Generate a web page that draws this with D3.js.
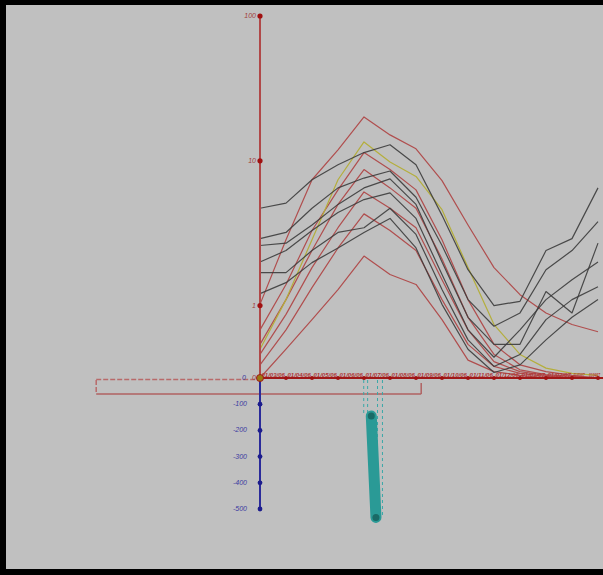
<!DOCTYPE html>
<html><head><meta charset="utf-8">
<script src="https://cdn.jsdelivr.net/npm/d3@7"></script>
<style>html,body{margin:0;padding:0;background:#000}svg{display:block}</style>
</head><body>
<svg id="c" width="603" height="575"></svg>
<script>
// sampling periods along the shared horizontal axis
const periods = ["01/03/06","01/04/06","01/05/06","01/06/06","01/07/06","01/08/06","01/09/06",
                 "01/10/06","01/11/06","01/12/06","01/01/07","01/02/07","01/03/07","01/04/07"];

// upper panel (log) series — red group
const red1 = [1.02, 2.85, 7.4, 11.9, 20.1, 15.1, 12.1, 7.3, 3.6, 1.83, 1.19, 0.89, 0.74, 0.66];
const red2 = [0.68, 1.40, 3.3, 6.3, 11.4, 8.7, 6.3, 2.85, 1.10, 0.54, 0.39, 0.35, 0.33, 0];
const red3 = [0.54, 1.10, 2.4, 5.0, 8.7, 6.5, 4.7, 2.1, 0.83, 0.46, 0.36, 0.334, 0.324, 0];
const red4 = [0.46, 0.87, 1.83, 3.45, 6.1, 4.7, 3.45, 1.51, 0.68, 0.41, 0.35, 0.33, 0, 0];
const red5 = [0.39, 0.68, 1.33, 2.5, 4.3, 3.3, 2.4, 1.10, 0.54, 0.38, 0.34, 0.324, 0, 0];
const red6 = [0, 0.50, 0.80, 1.29, 2.2, 1.64, 1.40, 0.80, 0.42, 0.35, 0.33, 0, 0, 0];
// upper panel — yellow series
const yellow1 = [0.50, 1.10, 2.85, 7.4, 13.5, 9.8, 7.8, 4.6, 1.83, 0.74, 0.46, 0.37, 0.34, 0.33];
// upper panel — dark group
const dark1 = [4.7, 5.1, 7.4, 9.4, 11.4, 12.9, 9.4, 4.2, 1.77, 1.0, 1.07, 2.4, 2.9, 6.5];
const dark2 = [2.9, 3.2, 4.7, 6.5, 7.6, 8.5, 5.6, 2.6, 1.10, 0.72, 0.89, 1.77, 2.4, 3.8];
const dark3 = [2.6, 2.7, 3.6, 5.0, 6.5, 7.5, 5.0, 2.0, 0.83, 0.54, 0.54, 1.25, 0.89, 2.7];
const dark4 = [2.0, 2.4, 3.3, 4.4, 5.4, 6.0, 4.0, 1.64, 0.68, 0.44, 0.68, 1.10, 1.51, 2.0];
const dark5 = [1.69, 1.69, 2.4, 3.2, 3.45, 4.7, 3.1, 1.29, 0.58, 0.38, 0.46, 0.80, 1.10, 1.35];
const dark6 = [1.21, 1.44, 1.98, 2.5, 3.2, 4.0, 2.5, 1.02, 0.50, 0.345, 0.39, 0.58, 0.83, 1.10];

const redSeries = [red1, red2, red3, red4, red5, red6];
const darkSeries = [dark1, dark2, dark3, dark4, dark5, dark6];

// upper axis ticks
const upperTicks = [100, 10, 1, 0];
const upperTickLabels = ["100", "10", "1", "0"];
// lower axis ticks
const lowerTicks = [-100, -200, -300, -400, -500];

// lower panel range bar (position along axis, value)
const rangeBar = [{pos: 4.28, value: -145}, {pos: 4.46, value: -532}];
// guide positions for the range bar
const guidesShort = [3.99, 4.14];
const guidesLong = [4.52, 4.71];
// bracket spanning periods
const bracket = {from: -6.3, to: 6.2};

const svg = d3.select("#c");
const W = 603, H = 575;
const FONT = "Liberation Sans, Arial, sans-serif";

// frame
svg.append("rect").attr("x", 0).attr("y", 0).attr("width", W).attr("height", H).attr("fill", "#000");
svg.append("rect").attr("x", 6).attr("y", 5).attr("width", W).attr("height", 564).attr("fill", "#c0c0c0");

const x = d3.scalePoint().domain(periods).range([260, 598]);
const xi = d3.scaleLinear().domain([0, periods.length - 1]).range([260, 598]);
const MINV = Math.sqrt(0.1);
const yLog = d3.scaleLog().domain([MINV, 100]).range([378, 16]);
const yUp = v => v <= 0 ? yLog(MINV) : yLog(Math.max(v, MINV));
const yLow = d3.scaleLinear().domain([0, -500]).range([378, 509]);

const line = d3.line().x((d, i) => x(periods[i])).y(d => yUp(d));

// bracket box under the axis
const bx0 = xi(bracket.from), bx1 = xi(bracket.to);
svg.append("line").attr("x1", bx0).attr("x2", 260).attr("y1", 379.5).attr("y2", 379.5)
  .attr("stroke", "#b86a6a").attr("stroke-width", 1.5).attr("stroke-dasharray", "5,2");
svg.append("line").attr("x1", bx0).attr("x2", bx0).attr("y1", 380).attr("y2", 394)
  .attr("stroke", "#b86a6a").attr("stroke-width", 1.5).attr("stroke-dasharray", "5,2");
svg.append("line").attr("x1", bx0).attr("x2", bx1).attr("y1", 394).attr("y2", 394)
  .attr("stroke", "#b06262").attr("stroke-width", 1.5);
svg.append("line").attr("x1", bx1).attr("x2", bx1).attr("y1", 383).attr("y2", 394)
  .attr("stroke", "#b06262").attr("stroke-width", 1.5);

// series lines
const g = svg.append("g").attr("fill", "none").attr("stroke-width", 1.2).attr("stroke-linejoin", "round");
redSeries.forEach(s => g.append("path").attr("d", line(s)).attr("stroke", "#b04e4e"));
g.append("path").attr("d", line(yellow1)).attr("stroke", "#b4ae3c");
darkSeries.forEach(s => g.append("path").attr("d", line(s)).attr("stroke", "#3c3c3c").attr("stroke-opacity", 0.9));

// upper vertical axis
svg.append("line").attr("x1", 260).attr("x2", 260).attr("y1", yLog(100)).attr("y2", 378)
  .attr("stroke", "#b04848").attr("stroke-width", 2);
upperTicks.forEach((t, i) => {
  const yy = yUp(t);
  if (t > 0) svg.append("circle").attr("cx", 260).attr("cy", yy).attr("r", 2.6).attr("fill", "#a01010");
  svg.append("text").attr("x", 256).attr("y", yy + 2).attr("text-anchor", "end")
    .attr("font-family", FONT).attr("font-style", "italic")
    .attr("font-size", 7).attr("fill", "#a04040").text(upperTickLabels[i]);
});

// lower vertical axis
svg.append("line").attr("x1", 260).attr("x2", 260).attr("y1", 378).attr("y2", yLow(-500))
  .attr("stroke", "#2a2a9a").attr("stroke-width", 2);
lowerTicks.forEach(t => {
  svg.append("circle").attr("cx", 260).attr("cy", yLow(t)).attr("r", 2.4).attr("fill", "#1c1c8c");
  svg.append("text").attr("x", 247).attr("y", yLow(t) + 2).attr("text-anchor", "end")
    .attr("font-family", FONT).attr("font-style", "italic")
    .attr("font-size", 7).attr("fill", "#3a3aa0").text(t);
});
svg.append("text").attr("x", 246).attr("y", 380).attr("text-anchor", "end")
  .attr("font-family", FONT).attr("font-style", "italic")
  .attr("font-size", 7).attr("fill", "#3a3aa0").text("0");

// horizontal axis with dense, horizontally squeezed period labels
svg.append("line").attr("x1", 260).attr("x2", W).attr("y1", 378).attr("y2", 378)
  .attr("stroke", "#a01818").attr("stroke-width", 2);
const nP = periods.length;
periods.forEach((p, i) => {
  const last = i === nP - 1;
  const len = last ? 11 : (i === nP - 2 ? 11 : 23.5);
  const x0 = last ? W - 3 - len : x(p) + 1.5;
  const t = svg.append("text").attr("x", 0).attr("y", 0)
    .attr("font-family", FONT).attr("font-style", "italic").attr("font-weight", "bold")
    .attr("font-size", 6).attr("fill", "#b03434").text(p);
  const w = t.node().getComputedTextLength() || 26;
  t.attr("transform", `translate(${x0},377) scale(${len / w},1)`);
  svg.append("circle").attr("cx", x(p)).attr("cy", 378).attr("r", 2).attr("fill", "#a01010");
});
svg.append("circle").attr("cx", 260).attr("cy", 378).attr("r", 3.5)
  .attr("fill", "#9a7a10").attr("stroke", "#a01818").attr("stroke-width", 1);

// lower panel guides and range bar
[...guidesShort.map(p => [p, -135]), ...guidesLong.map(p => [p, -530])].forEach(([p, v]) => {
  svg.append("line").attr("x1", xi(p)).attr("x2", xi(p)).attr("y1", 380).attr("y2", yLow(v))
    .attr("stroke", "#3aa8a8").attr("stroke-width", 1).attr("stroke-dasharray", "3,3");
});
svg.append("line")
  .attr("x1", xi(rangeBar[0].pos)).attr("y1", yLow(rangeBar[0].value))
  .attr("x2", xi(rangeBar[1].pos)).attr("y2", yLow(rangeBar[1].value))
  .attr("stroke", "#2a9a96").attr("stroke-width", 11).attr("stroke-linecap", "round");
rangeBar.forEach(d => svg.append("circle").attr("cx", xi(d.pos)).attr("cy", yLow(d.value))
  .attr("r", 3.5).attr("fill", "#1a6a66"));
</script>
</body></html>
